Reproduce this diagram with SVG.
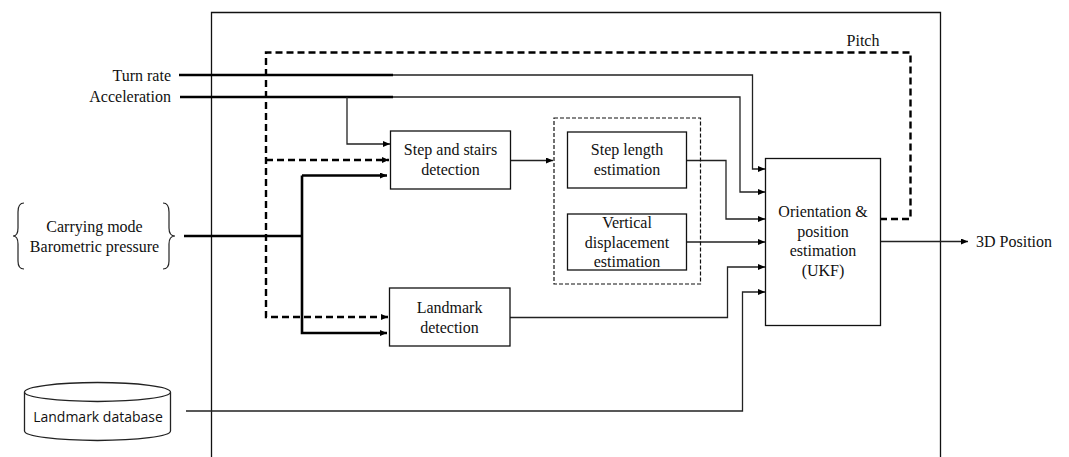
<svg xmlns="http://www.w3.org/2000/svg" width="1069" height="457" viewBox="0 0 1069 457">
<defs>
<marker id="ah" markerUnits="userSpaceOnUse" markerWidth="8" markerHeight="6" refX="7" refY="3" orient="auto"><path d="M0,0 L7,3 L0,6 z" fill="#000"/></marker>
<style>
.t{font-family:"Liberation Serif","Times New Roman",serif;font-size:16px;fill:#111;text-anchor:middle}
.box{fill:#fff;stroke:#111;stroke-width:1.3}
.thin{fill:none;stroke:#222;stroke-width:1.3}
.thick{fill:none;stroke:#000;stroke-width:2.6}
.dash{fill:none;stroke:#000;stroke-width:2.4;stroke-dasharray:7,4}
.dbox{fill:none;stroke:#111;stroke-width:1.2;stroke-dasharray:4,2}
</style>
</defs>
<rect width="1069" height="457" fill="#fff"/>
<path id="frame" d="M211.5,457 V12.5 H940.5 V457" fill="none" stroke="#111" stroke-width="1.3"/>
<g id="connectors">
<path class="thick" d="M179,75 H393"/>
<path class="thin" d="M393,75 H752.5 V169 H765" marker-end="url(#ah)"/>
<path class="thick" d="M180,97 H393"/>
<path class="thin" d="M393,97 H740 V192 H765" marker-end="url(#ah)"/>
<path class="thin" d="M347,97 V144 H390" marker-end="url(#ah)"/>
<path class="dash" d="M880,219 H910.5 V52.5 H266 V317 H388" marker-end="url(#ah)"/>
<path class="dash" d="M266,160 H389" marker-end="url(#ah)"/>
<path class="thick" d="M184,236 H302"/>
<path class="thick" d="M302,175.5 V333 H387" marker-end="url(#ah)"/>
<path class="thick" d="M302,175.5 H387" marker-end="url(#ah)"/>
<path class="thin" d="M511,160.5 H553" marker-end="url(#ah)"/>
<path class="thin" d="M687,160.5 H726 V219 H765" marker-end="url(#ah)"/>
<path class="thin" d="M687,242 H765" marker-end="url(#ah)"/>
<path class="thin" d="M510,317.5 H727.5 V267 H765" marker-end="url(#ah)"/>
<path class="thin" d="M186,411 H742.5 V292 H765" marker-end="url(#ah)"/>
<path class="thin" d="M880,241.5 H968" marker-end="url(#ah)"/>
</g>
<g id="turn-rate"><text class="t" x="171" y="81" style="text-anchor:end">Turn rate</text></g>
<g id="acceleration"><text class="t" x="171" y="102" style="text-anchor:end">Acceleration</text></g>
<g id="carrying">
<path d="M24,203 Q18,203 18,212 L18,228 Q18,236 13,236 Q18,236 18,244 L18,261 Q18,269 24,269" fill="none" stroke="#222" stroke-width="1.2"/>
<path d="M163,203 Q169,203 169,212 L169,228 Q169,236 175,236 Q169,236 169,244 L169,261 Q169,269 163,269" fill="none" stroke="#222" stroke-width="1.2"/>
<text class="t" x="94.5" y="232">Carrying mode</text>
<text class="t" x="94.5" y="252">Barometric pressure</text>
</g>
<g id="database">
<path d="M24.5,392 V431 A73,9.5 0 0 0 170.5,431 V392" fill="#fff" stroke="#222" stroke-width="1.3"/>
<ellipse cx="97.5" cy="392" rx="73" ry="9.5" fill="#fff" stroke="#222" stroke-width="1.3"/>
<text x="98" y="422" style="font-family:'Open Sans','Noto Sans',sans-serif;font-size:14px;fill:#111;text-anchor:middle">Landmark database</text>
</g>
<g id="step-stairs">
<rect class="box" x="390.5" y="131" width="120" height="58"/>
<text class="t" x="450.5" y="155">Step and stairs</text>
<text class="t" x="450.5" y="174.5">detection</text>
</g>
<g id="landmark-detection">
<rect class="box" x="389.5" y="288" width="120.5" height="58"/>
<text class="t" x="449.5" y="312.5">Landmark</text>
<text class="t" x="449.5" y="332.5">detection</text>
</g>
<g id="estimation-group">
<rect class="dbox" x="554" y="118" width="146.5" height="166"/>
</g>
<g id="step-length">
<rect class="box" x="567.5" y="132" width="119" height="56"/>
<text class="t" x="627" y="155">Step length</text>
<text class="t" x="627" y="174.5">estimation</text>
</g>
<g id="vertical">
<rect class="box" x="567.5" y="214" width="119" height="56"/>
<text class="t" x="627" y="228">Vertical</text>
<text class="t" x="627" y="247.5">displacement</text>
<text class="t" x="627" y="267">estimation</text>
</g>
<g id="ukf">
<rect class="box" x="765.5" y="158.5" width="115" height="167"/>
<text class="t" x="823" y="217">Orientation &amp;</text>
<text class="t" x="823" y="236.5">position</text>
<text class="t" x="823" y="256">estimation</text>
<text class="t" x="823" y="275.5">(UKF)</text>
</g>
<g id="pitch"><text class="t" x="863" y="46">Pitch</text></g>
<g id="output"><text class="t" x="976" y="247" style="text-anchor:start">3D Position</text></g>
</svg>
